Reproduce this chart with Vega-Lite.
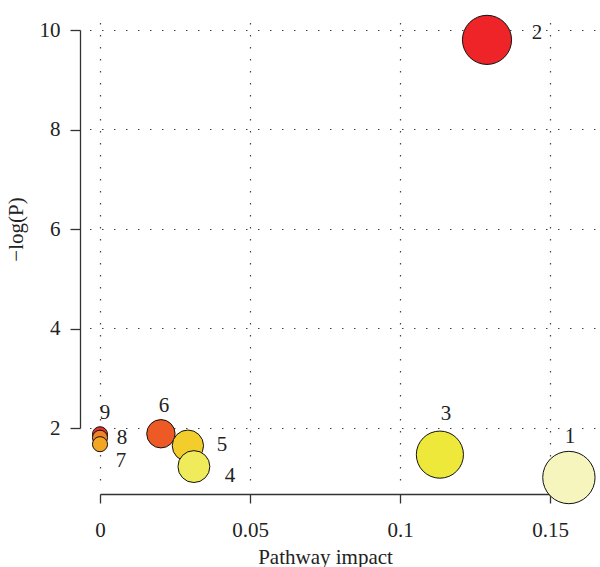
{
  "$schema": "https://vega.github.io/schema/vega-lite/v6.json",
  "width": 510,
  "height": 465,
  "autosize": {"type": "none"},
  "padding": {"left": 85, "top": 15, "right": 5, "bottom": 87},
  "background": "white",
  "config": {
    "view": {"stroke": null},
    "font": "Liberation Serif",
    "axis": {
      "labelFont": "Liberation Serif",
      "titleFont": "Liberation Serif",
      "labelFontSize": 21,
      "titleFontSize": 21,
      "titleFontWeight": "normal",
      "labelColor": "#222",
      "titleColor": "#222",
      "domainColor": "#333",
      "tickColor": "#333",
      "domainWidth": 1.3,
      "tickWidth": 1.3,
      "gridColor": "#444",
      "gridDash": [1.5, 10.5],
      "gridWidth": 1.2,
      "labelFlush": false,
      "labelOverlap": false
    }
  },
  "data": {
    "values": [
      {"id": 1, "impact": 0.1563, "logp": 1.0},
      {"id": 2, "impact": 0.129, "logp": 9.8},
      {"id": 3, "impact": 0.1133, "logp": 1.46},
      {"id": 4, "impact": 0.0313, "logp": 1.22},
      {"id": 5, "impact": 0.0293, "logp": 1.64},
      {"id": 6, "impact": 0.0203, "logp": 1.88},
      {"id": 7, "impact": 0, "logp": 1.67},
      {"id": 8, "impact": 0, "logp": 1.8},
      {"id": 9, "impact": 0, "logp": 1.87}
    ]
  },
  "layer": [
    {
      "mark": {"type": "point", "opacity": 0},
      "encoding": {
        "x": {
          "field": "impact",
          "type": "quantitative",
          "scale": {"domain": [0, 0.15], "range": [15, 465], "nice": false, "zero": false},
          "axis": {
            "orient": "bottom",
            "grid": false,
            "values": [0, 0.05, 0.1, 0.15],
            "format": ".2~f",
            "title": "Pathway impact",
            "offset": 14,
            "tickSize": 9,
            "labelPadding": 16,
            "titlePadding": 6
          }
        },
        "y": {
          "field": "logp",
          "type": "quantitative",
          "scale": {"domain": [2, 10], "range": [413, 15], "nice": false, "zero": false},
          "axis": {
            "orient": "left",
            "grid": false,
            "values": [2, 4, 6, 8, 10],
            "title": "−log(P)",
            "offset": 5,
            "tickSize": 10,
            "labelPadding": 10,
            "titlePadding": 13
          }
        }
      }
    },
    {
      "encoding": {
        "x": {
          "field": "impact",
          "type": "quantitative",
          "scale": {"domain": [-0.005, 0.165], "nice": false, "zero": false},
          "axis": {
            "orient": "top",
            "grid": true,
            "values": [0, 0.05, 0.1, 0.15],
            "domain": false,
            "ticks": false,
            "labels": false,
            "title": null
          }
        },
        "y": {
          "field": "logp",
          "type": "quantitative",
          "scale": {"domain": [0.95, 10.3], "nice": false, "zero": false},
          "axis": {
            "orient": "right",
            "grid": true,
            "values": [2, 4, 6, 8, 10],
            "domain": false,
            "ticks": false,
            "labels": false,
            "title": null
          }
        }
      },
      "layer": [
        {
          "mark": {"type": "circle", "stroke": "#111", "strokeWidth": 1, "opacity": 1},
          "encoding": {
            "size": {
              "field": "impact",
              "type": "quantitative",
              "scale": {"type": "pow", "exponent": 0.72, "domain": [0, 0.1563], "range": [227, 2740]},
              "legend": null
            },
            "color": {
              "field": "id",
              "type": "nominal",
              "scale": {
                "domain": [1, 2, 3, 4, 5, 6, 7, 8, 9],
                "range": ["#F7F5BE", "#EE2428", "#EDE83A", "#F0EB5A", "#F3CD2C", "#EE5A25", "#F3A623", "#F0822A", "#E4312A"]
              },
              "legend": null
            },
            "order": {"field": "id", "type": "quantitative", "sort": "descending"}
          }
        },
        {"transform": [{"filter": "datum.id == 1"}], "mark": {"type": "text", "dx": 1, "dy": -41, "fontSize": 21, "color": "#222"}, "encoding": {"text": {"field": "id", "type": "nominal"}}},
        {"transform": [{"filter": "datum.id == 2"}], "mark": {"type": "text", "dx": 50, "dy": -7, "fontSize": 21, "color": "#222"}, "encoding": {"text": {"field": "id", "type": "nominal"}}},
        {"transform": [{"filter": "datum.id == 3"}], "mark": {"type": "text", "dx": 6, "dy": -41, "fontSize": 21, "color": "#222"}, "encoding": {"text": {"field": "id", "type": "nominal"}}},
        {"transform": [{"filter": "datum.id == 4"}], "mark": {"type": "text", "dx": 36, "dy": 9, "fontSize": 21, "color": "#222"}, "encoding": {"text": {"field": "id", "type": "nominal"}}},
        {"transform": [{"filter": "datum.id == 5"}], "mark": {"type": "text", "dx": 34, "dy": -1, "fontSize": 21, "color": "#222"}, "encoding": {"text": {"field": "id", "type": "nominal"}}},
        {"transform": [{"filter": "datum.id == 6"}], "mark": {"type": "text", "dx": 3, "dy": -28, "fontSize": 21, "color": "#222"}, "encoding": {"text": {"field": "id", "type": "nominal"}}},
        {"transform": [{"filter": "datum.id == 7"}], "mark": {"type": "text", "dx": 21, "dy": 17, "fontSize": 21, "color": "#222"}, "encoding": {"text": {"field": "id", "type": "nominal"}}},
        {"transform": [{"filter": "datum.id == 8"}], "mark": {"type": "text", "dx": 22, "dy": 0, "fontSize": 21, "color": "#222"}, "encoding": {"text": {"field": "id", "type": "nominal"}}},
        {"transform": [{"filter": "datum.id == 9"}], "mark": {"type": "text", "dx": 5, "dy": -21, "fontSize": 21, "color": "#222"}, "encoding": {"text": {"field": "id", "type": "nominal"}}}
      ]
    }
  ],
  "resolve": {"scale": {"x": "independent", "y": "independent", "size": "independent", "color": "independent"}, "axis": {"x": "independent", "y": "independent"}}
}
